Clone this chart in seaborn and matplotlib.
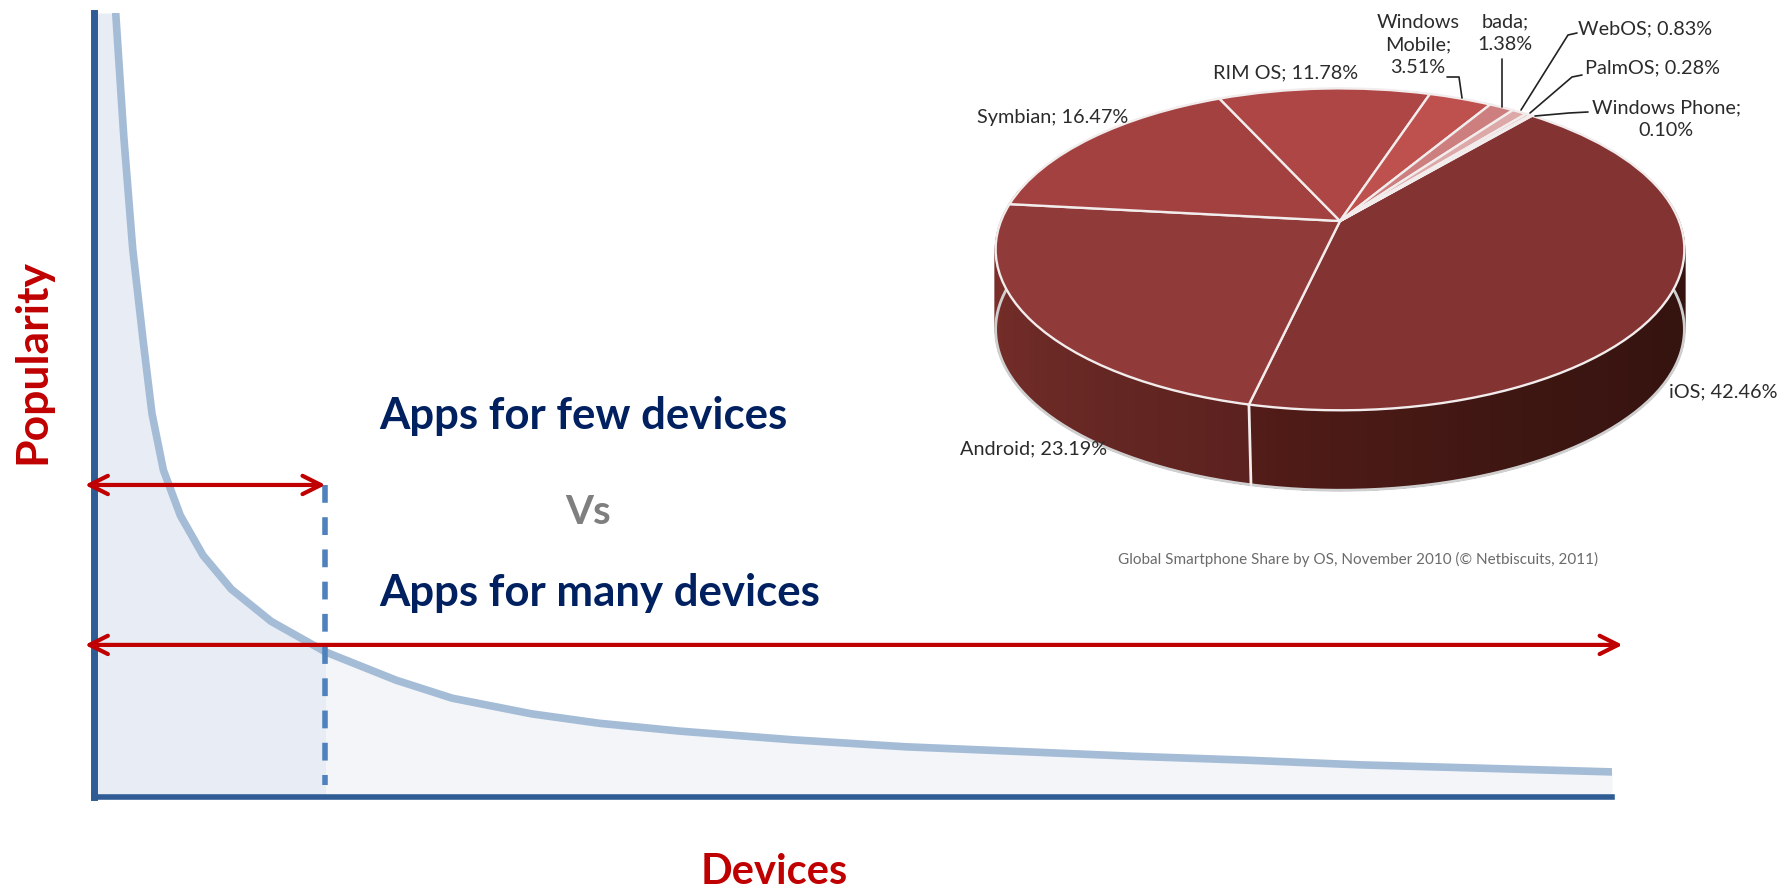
import numpy as np
import pandas as pd
import matplotlib
matplotlib.use('Agg')
import matplotlib.pyplot as plt
import matplotlib.transforms as mtransforms
from matplotlib.colors import LinearSegmentedColormap
import seaborn as sns

# long tail curve (x and y run 0..100)
devices = [1.43, 1.96, 2.55, 3.23, 3.82, 4.57, 5.69, 7.19, 9.05, 11.67, 15.25, 19.9, 23.6, 28.85, 33.3,
           38.6, 46, 53.5, 61, 68.4, 75.9, 83.4, 90.9, 100]
popularity = [100, 84.3, 69.9, 58.3, 48.9, 41.7, 35.9, 30.8, 26.5, 22.4, 18.5, 14.9, 12.6, 10.6, 9.4,
              8.4, 7.3, 6.4, 5.8, 5.2, 4.7, 4.1, 3.7, 3.2]
few_cut = 15.25
few_level = 39.8
many_level = 19.4

# pie values
os_names = ['iOS', 'Android', 'Symbian', 'RIM OS', 'Windows Mobile', 'bada', 'WebOS', 'PalmOS', 'Windows Phone']
os_share = [42.46, 23.19, 16.47, 11.78, 3.51, 1.38, 0.83, 0.28, 0.10]
os_colors = ['#823332', '#903A39', '#A34141', '#AD4644', '#BE504E', '#CC7F7E', '#DDA9A8', '#E8C5C4', '#F0DADA']

W, H = 1777, 894
sns.set_theme(style='white')
plt.rcParams['font.family'] = ['Lato', 'DejaVu Sans']

fig = plt.figure(figsize=(W / 100, H / 100), dpi=100, facecolor='white')


def rect(left, top, right, bottom):
    return [left / W, 1 - bottom / H, (right - left) / W, (bottom - top) / H]


def label(x, y, s, **kw):
    kw.setdefault('ha', 'center')
    kw.setdefault('va', 'center')
    fig.text(x / W, 1 - y / H, s, **kw)


# main chart
ax = fig.add_axes(rect(94, 13, 1612, 797))
ax.set_xlim(0, 100)
ax.set_ylim(0, 100)
ax.patch.set_alpha(0)

df = pd.DataFrame({'devices': devices, 'popularity': popularity})
fill_x = np.r_[0, df['devices']]
fill_y = np.r_[100, df['popularity']]
ax.fill_between(fill_x, fill_y, where=fill_x <= few_cut, color='#E8EDF5', lw=0, interpolate=True)
ax.fill_between(fill_x, fill_y, where=fill_x >= few_cut, color='#F3F5F9', lw=0, interpolate=True)
sns.lineplot(data=df, x='devices', y='popularity', ax=ax, color='#A5BCD7', lw=5.5, estimator=None, sort=False,
             solid_joinstyle='round')
ax.set(xlabel='', ylabel='', xticks=[], yticks=[])
sns.despine(ax=ax)
for side in ['left', 'bottom']:
    ax.spines[side].set_color('#2F5C94')
ax.spines['left'].set_linewidth(5)
ax.spines['bottom'].set_linewidth(4)

ax.plot([few_cut, few_cut], [few_level, 1.5], color='#4F81BD', lw=4, dashes=(3.2, 2.6), clip_on=False)
for x_end, level in [(few_cut, few_level), (100.7, many_level)]:
    ax.annotate('', xy=(-0.6, level), xytext=(x_end, level), annotation_clip=False,
                arrowprops=dict(arrowstyle='<->,head_length=1.1,head_width=0.55', color='#C00000', lw=3,
                                shrinkA=0, shrinkB=0))

label(32, 362, 'Popularity', rotation=90, color='#C00000', fontsize=32, fontweight='bold')
label(774, 872, 'Devices', color='#C00000', fontsize=30, fontweight='bold')
label(379, 416, 'Apps for few devices', ha='left', color='#002060', fontsize=31.5, fontweight='bold')
label(588, 513, 'Vs', color='#7F7F7F', fontsize=29, fontweight='bold')
label(379, 593, 'Apps for many devices', ha='left', color='#002060', fontsize=31.5, fontweight='bold')


# pie in perspective, back of the disc is further away
class Tilt(mtransforms.Transform):
    input_dims = 2
    output_dims = 2
    k = 0.176
    squash = 0.46

    def transform_non_affine(self, xy):
        xy = np.asarray(xy, dtype=float)
        w = 1 + self.k * xy[:, 1]
        return np.column_stack([xy[:, 0] / w, self.squash * xy[:, 1] / w])


tilt = Tilt()
R = 339
depth = 80 / R
start_angle = 50

pax = fig.add_axes(rect(1340 - 1.2 * R, 221 - 0.6 * R, 1340 + 1.2 * R, 221 + 0.9 * R))
wedges, _ = pax.pie(os_share, colors=os_colors, startangle=start_angle, counterclock=False, radius=1,
                    wedgeprops=dict(edgecolor='#F2ECEC', linewidth=1.7))
for w in wedges:
    w.set_transform(tilt + pax.transData)
    w.set_zorder(5)
pax.set_aspect('auto')
pax.set_xlim(-1.2, 1.2)
pax.set_ylim(-0.9, 0.6)
pax.axis('off')


def rim(theta_deg):
    t = np.radians(theta_deg)
    return tilt.transform_non_affine(np.column_stack([np.cos(t), np.sin(t)]))


split = start_angle - 3.6 * os_share[0]
walls = [
    (np.linspace(split, 12, 90), LinearSegmentedColormap.from_list('ios', ['#521C18', '#3E1612', '#35130F', '#35130F'])),
    (np.linspace(split, -192, 70), LinearSegmentedColormap.from_list('android', ['#5C221F', '#6E2B27', '#7F302C'])),
]
for angles, cmap in walls:
    edge = rim(angles)
    for i in range(len(angles) - 1):
        a, b = edge[i], edge[i + 1]
        pax.fill([a[0], b[0], b[0], a[0]], [a[1], b[1], b[1] - depth, a[1] - depth],
                 color=cmap(i / (len(angles) - 2)), lw=1.2, zorder=2)

outline = rim(np.linspace(-192, 12, 200))
pax.plot(outline[:, 0], outline[:, 1] - depth, color='#CFCFCF', lw=2, zorder=3)
front = rim(np.array([split]))[0]
pax.plot([front[0], front[0] + 0.006], [front[1], front[1] - depth], color='#F2ECEC', lw=2, zorder=4)

# leader lines, pixel positions on the picture
leaders = [
    [(1447, 77), (1459, 77), (1462, 98)],
    [(1502, 59), (1502, 107)],
    [(1577, 33), (1568, 35), (1521, 110)],
    [(1582, 75), (1572, 77), (1530, 113)],
    [(1588, 112), (1569, 113), (1535, 116)],
]
for pts in leaders:
    xs = [p[0] / W for p in pts]
    ys = [1 - p[1] / H for p in pts]
    fig.add_artist(plt.Line2D(xs, ys, color='#222222', lw=1.2))

txt = dict(color='#2B2B2B', fontsize=14.3, linespacing=1.42)
label(1418, 45, 'Windows\nMobile;\n3.51%', **txt)
label(1505, 33, 'bada;\n1.38%', **txt)
label(1578, 29, 'WebOS; 0.83%', ha='left', **txt)
label(1585, 68, 'PalmOS; 0.28%', ha='left', **txt)
label(1666, 119, 'Windows Phone;\n0.10%', **txt)
label(1286, 73, 'RIM OS; 11.78%', **txt)
label(1053, 118, 'Symbian; 16.47%', **txt)
label(1034, 449, 'Android; 23.19%', **txt)
label(1723, 392, 'iOS; 42.46%', **txt)
label(1358, 559, 'Global Smartphone Share by OS, November 2010 (© Netbiscuits, 2011)', color='#6B6B6B', fontsize=11)

fig.savefig('out.png', dpi=100)
